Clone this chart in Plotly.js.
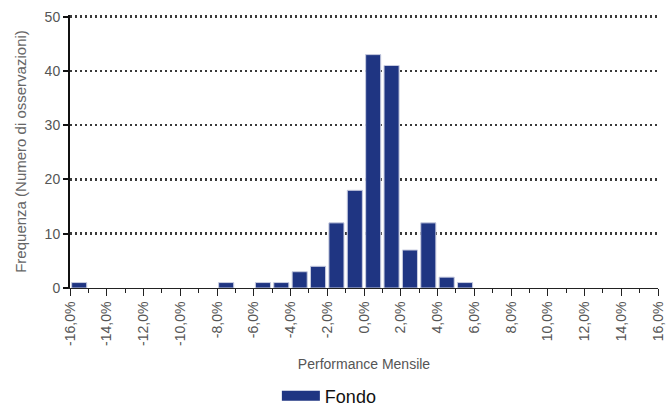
<!DOCTYPE html>
<html>
<head>
<meta charset="utf-8">
<script src="https://cdn.plot.ly/plotly-3.0.1.min.js"></script>
<style>html,body{margin:0;padding:0;background:#fff;}#chart{width:672px;height:408px;}</style>
</head>
<body>
<div id="chart"></div>
<script>
// Monthly performance bins (lower edge, %), and observation counts
const binLower = [-16, -8, -6, -5, -4, -3, -2, -1, 0, 1, 2, 3, 4, 5];
const counts   = [ 1,   1,  1,  1,  3,  4, 12, 18, 43, 41, 7, 12, 2, 1];
const binWidth = 1;
const tickVals = [-16, -14, -12, -10, -8, -6, -4, -2, 0, 2, 4, 6, 8, 10, 12, 14, 16];
const tickText = tickVals.map(v => v.toFixed(1).replace('.', ',') + '%');
const seriesName = 'Fondo';
const navy = '#1f3582';

const binCenters = binLower.map(v => v + binWidth / 2);

const traces = [
  {
    type: 'bar', x: binCenters, y: counts, width: 0.82,
    marker: {color: navy, line: {color: '#c8cce0', width: 1}},
    showlegend: false, hoverinfo: 'x+y'
  },
  {
    type: 'scatter', mode: 'lines', x: [null], y: [null], name: seriesName,
    line: {color: navy, width: 17}, showlegend: true
  }
];

const fam = 'Liberation Sans, Arial, sans-serif';
const axisFont = {family: fam, size: 14, color: '#555'};

const layout = {
  width: 672, height: 408,
  margin: {l: 70, r: 14, t: 15, b: 120},
  paper_bgcolor: '#fff', plot_bgcolor: '#fff',
  font: {family: fam, color: '#555'},
  showlegend: true,
  legend: {orientation: 'h', xref: 'container', yref: 'container',
           x: 0.412, xanchor: 'left', y: 0.029, yanchor: 'middle',
           font: {family: fam, size: 18, color: '#111'}, itemwidth: 38},
  xaxis: {
    range: [-16, 16], tickvals: tickVals, ticktext: tickText, tickangle: -90,
    tickfont: axisFont, ticks: 'outside', ticklen: 7, tickcolor: '#222', tickwidth: 1,
    minor: {dtick: 1, tick0: 0, ticks: 'outside', ticklen: 4, tickcolor: '#222', showgrid: false},
    showgrid: false, zeroline: false, showline: true, linecolor: '#222', linewidth: 1,
    automargin: false,
    title: {text: 'Performance Mensile', font: {family: fam, size: 14, color: '#555'}, standoff: 14},
    fixedrange: true
  },
  yaxis: {
    range: [0, 50.3], tickvals: [0, 10, 20, 30, 40, 50], tickfont: axisFont,
    ticks: 'outside', ticklen: 5, tickcolor: '#111', tickwidth: 2,
    showgrid: true, gridcolor: '#3a3a3a', griddash: '2px,3px', gridwidth: 2.5,
    zeroline: false, showline: true, linecolor: '#111', linewidth: 2,
    automargin: false,
    title: {text: 'Frequenza (Numero di osservazioni)', font: {family: fam, size: 15, color: '#666'}, standoff: 14},
    fixedrange: true
  }
};

Plotly.newPlot('chart', traces, layout, {displayModeBar: false, staticPlot: true});
</script>
</body>
</html>
